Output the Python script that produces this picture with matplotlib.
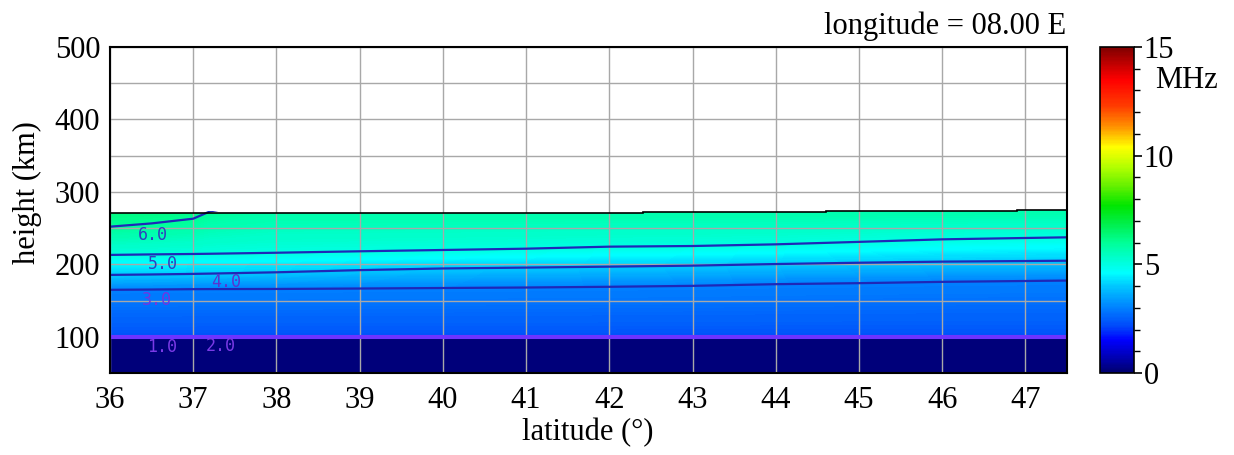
import numpy as np
import matplotlib
matplotlib.use("Agg")
import matplotlib.pyplot as plt
from matplotlib.colors import LinearSegmentedColormap, Normalize
from matplotlib.patches import Polygon
from matplotlib.cm import ScalarMappable
from matplotlib.ticker import MultipleLocator

# ---- data: plasma frequency section along longitude 8.00 E ----
latitudes = [36.0, 36.5, 37.0, 37.2, 38.0, 39.0, 40.0, 41.0, 42.0, 43.0, 44.0, 45.0, 46.0, 47.5]

# isoline heights (km) for each latitude column
h_3mhz = [164.8, 165.2, 165.7, 165.8, 166.0, 166.6, 167.3, 168.0, 169.0, 170.3, 172.6, 174.0, 175.8, 177.6]
h_4mhz = [185.4, 186.0, 186.8, 187.2, 189.0, 192.0, 194.3, 195.5, 196.8, 198.2, 200.4, 202.2, 203.7, 205.0]
h_5mhz = [213.0, 213.7, 214.3, 214.6, 216.0, 218.0, 219.8, 221.6, 224.4, 225.3, 227.6, 231.0, 234.5, 237.3]
h_6mhz = [252.0, 256.5, 263.0, 273.0, 290.0, 290.0, 290.0, 290.0, 290.0, 290.0, 290.0, 290.0, 290.0, 290.0]

# lower layer (E-region step) and upper limit of the profile
base_heights = [50.0, 99.0, 101.0]
base_values = [0.2, 0.2, 2.3]
iso_values = [3.0, 4.0, 5.0, 6.0]
cap_height = 300.0
cap_value = 6.6

# upper boundary of the computed region
edge_lat = [36.0, 42.4, 44.6, 46.9, 47.5]
edge_h = [271.0, 272.5, 273.5, 275.0]

contour_levels = [1.0, 2.0, 3.0, 4.0, 5.0, 6.0]
label_pos = {1.0: (36.63, 86.4), 2.0: (37.33, 87.8), 3.0: (36.56, 151.0),
             4.0: (37.39, 175.8), 5.0: (36.63, 200.5), 6.0: (36.51, 240.4)}

x_ticks = list(range(36, 48))
y_ticks = [100, 200, 300, 400, 500]

# ---- colour map ----
cmap_nodes = [
    (0.0, (0, 0, 110)), (0.6, (0, 0, 170)), (1.5, (0, 0, 255)), (2.1, (0, 70, 250)),
    (3.0, (0, 130, 255)), (4.0, (0, 200, 255)), (4.6, (0, 255, 255)), (6.0, (0, 255, 150)),
    (6.8, (0, 240, 80)), (7.7, (0, 230, 0)), (8.6, (100, 240, 0)), (9.5, (180, 255, 0)),
    (10.4, (255, 255, 0)), (10.8, (255, 210, 0)), (11.4, (255, 140, 0)), (12.3, (255, 60, 0)),
    (13.5, (255, 0, 0)), (15.0, (128, 0, 0)),
]
cmap = LinearSegmentedColormap.from_list(
    "fo", [(v / 15.0, tuple(c / 255.0 for c in rgb)) for v, rgb in cmap_nodes])
norm = Normalize(0, 15)

# ---- curvilinear grid: rows follow the isolines ----
n = len(latitudes)
rows_h = [[h] * n for h in base_heights] + [h_3mhz, h_4mhz, h_5mhz, h_6mhz] + [[cap_height] * n]
rows_v = base_values + iso_values + [cap_value]
H = np.array(rows_h)
Z = np.array([[v] * n for v in rows_v])
LAT = np.tile(np.array(latitudes), (len(rows_v), 1))

plt.rcParams["font.family"] = ["Liberation Serif", "DejaVu Serif"]

W, Hpx = 1234, 455
fig = plt.figure(figsize=(W / 100, Hpx / 100), dpi=100)
ax = fig.add_axes([110 / W, 1 - 373 / Hpx, (1067 - 110) / W, (373 - 47) / Hpx])
cax = fig.add_axes([1100 / W, 1 - 373 / Hpx, 34 / W, (373 - 47) / Hpx])


def region_path(extra):
    xs = [edge_lat[0]]
    ys = [50.0]
    for i, h in enumerate(edge_h):
        xs += [edge_lat[i], edge_lat[i + 1]]
        ys += [h + extra, h + extra]
    xs.append(edge_lat[-1])
    ys.append(50.0)
    return Polygon(np.column_stack([xs, ys]), closed=True, transform=ax.transData)


fill = ax.contourf(LAT, H, Z, levels=np.linspace(0, 15, 301), cmap=cmap, norm=norm,
                   antialiased=False, zorder=1)
fill.set_clip_path(region_path(0.0))

line_colors = ["#6e34ff", "#6e34ff", "#1e28b8", "#1e28b8", "#1e28b8", "#1e28b8"]
lines = ax.contour(LAT, H, Z, levels=contour_levels, colors=line_colors,
                   linewidths=[2.2, 2.2, 1.6, 1.6, 1.6, 1.6], zorder=3)
lines.set_clip_path(region_path(3.0))

ax.stairs(edge_h, edge_lat, baseline=None, color="black", linewidth=1.2, zorder=4)

label_colors = {1.0: "#7a3ae6", 2.0: "#7a3ae6", 3.0: "#7236e0", 4.0: "#5a34d0",
                5.0: "#2f3fbf", 6.0: "#2f3fbf"}
for lev in contour_levels:
    lx, ly = label_pos[lev]
    ax.text(lx, ly, f"{lev:.1f}", color=label_colors[lev], fontsize=12,
            family="DejaVu Sans Mono", ha="center", va="center", zorder=5)

ax.set_xlim(36, 47.5)
ax.set_ylim(50, 500)
ax.set_xticks(x_ticks)
ax.set_yticks(y_ticks)
ax.yaxis.set_minor_locator(MultipleLocator(50))
ax.grid(True, which="both", color="#a8a8a8", linewidth=1.0, zorder=2)
ax.set_axisbelow(False)
ax.tick_params(which="both", length=0, labelsize=22)
ax.tick_params(axis="x", pad=9)
ax.tick_params(axis="y", pad=7)
for sp in ax.spines.values():
    sp.set_linewidth(1.5)
    sp.set_zorder(6)

fig.text(588 / W, 1 - 433 / Hpx, "latitude (°)", ha="center", va="center", fontsize=22)
fig.text(27 / W, 1 - 193 / Hpx, "height (km)", ha="center", va="center",
         rotation=90, fontsize=22)
fig.text(1066 / W, 1 - 34 / Hpx, "longitude = 08.00 E", ha="right", va="baseline",
         fontsize=22)

cb = fig.colorbar(ScalarMappable(norm=norm, cmap=cmap), cax=cax)
cb.set_ticks([0, 5, 10, 15])
cb.ax.yaxis.set_minor_locator(MultipleLocator(1))
cb.ax.tick_params(which="major", length=6, width=1.2, labelsize=22, pad=1)
cb.ax.tick_params(which="minor", length=4, width=1.0)
cb.outline.set_linewidth(1.2)
fig.text(1187 / W, 1 - 80 / Hpx, "MHz", ha="center", va="center", fontsize=22)

fig.savefig("out.png", dpi=100)
